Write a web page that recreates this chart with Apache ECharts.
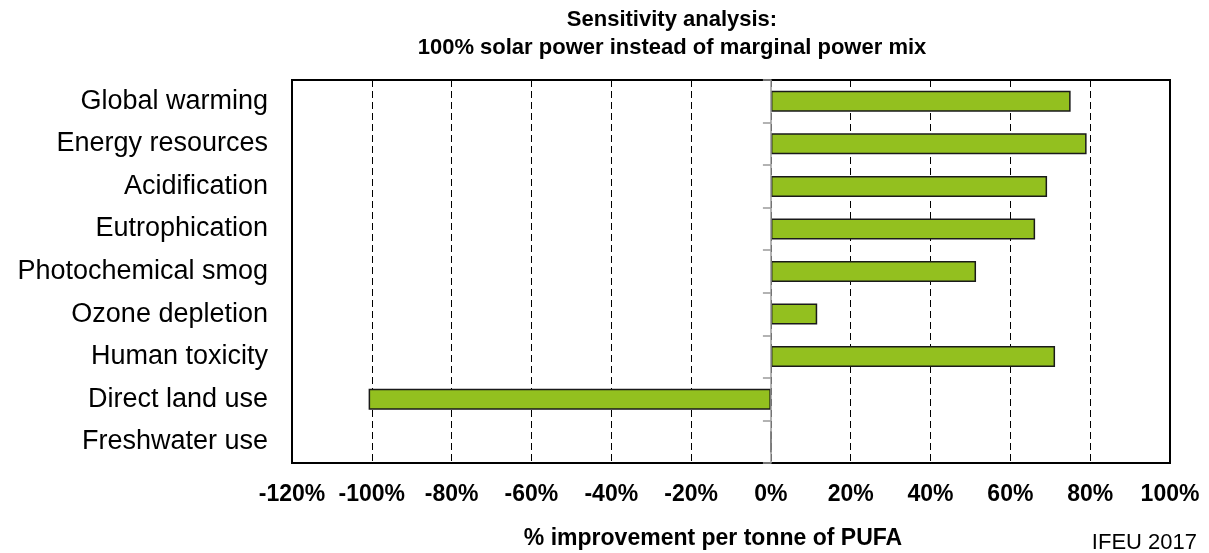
<!DOCTYPE html>
<html>
<head>
<meta charset="utf-8">
<script src="https://cdn.jsdelivr.net/npm/echarts@6/dist/echarts.min.js"></script>
<style>
html,body{margin:0;padding:0;background:#fff;}
#chart{width:1209px;height:553px;}
</style>
</head>
<body>
<div id="chart"></div>
<script>
const categories = ['Global warming','Energy resources','Acidification','Eutrophication','Photochemical smog','Ozone depletion','Human toxicity','Direct land use','Freshwater use'];
const improvement = [75.1, 79.1, 69.2, 66.2, 51.4, 11.6, 71.2, -100.8, 0];
const xTicks = { min: -120, max: 100, interval: 20 };
const titleLines = ['Sensitivity analysis:', '100% solar power instead of marginal power mix'];
const xAxisName = '% improvement per tonne of PUFA';
const sourceNote = 'IFEU 2017';

const FONT = '"Liberation Sans", Arial, sans-serif';
const chart = echarts.init(document.getElementById('chart'), null, {renderer:'canvas'});
chart.setOption({
  animation: false,
  backgroundColor: '#fff',
  title: [
    { text: titleLines.join('\n'), left: 672, top: 6, padding: 0, textAlign: 'center',
      textStyle: { fontFamily: FONT, fontSize: 22, fontWeight: 'bold', color: '#000', lineHeight: 28 } },
    { text: xAxisName, left: 713, top: 527, padding: 0, textAlign: 'center',
      textStyle: { fontFamily: FONT, fontSize: 23, fontWeight: 'bold', color: '#000', lineHeight: 24 } },
    { text: sourceNote, right: 12, top: 531, padding: 0,
      textStyle: { fontFamily: FONT, fontSize: 22, fontWeight: 'normal', color: '#000', lineHeight: 24 } }
  ],
  grid: { left: 292, top: 80, right: 39, bottom: 90, show: true, borderColor: '#000', borderWidth: 2, backgroundColor: 'transparent' },
  xAxis: {
    type: 'value', min: xTicks.min, max: xTicks.max, interval: xTicks.interval,
    axisLine: { show: false }, axisTick: { show: false },
    axisLabel: { formatter: '{value}%', margin: 20, fontFamily: FONT, fontSize: 23, fontWeight: 'bold', color: '#000' },
    splitLine: { show: true, lineStyle: { color: '#000', width: 1, type: [7, 4] } }
  },
  yAxis: [
    { type: 'category', data: categories, inverse: true, position: 'left',
      axisLine: { show: false, onZero: false }, axisTick: { show: false },
      axisLabel: { margin: 24, fontFamily: FONT, fontSize: 27, color: '#000' } },
    { type: 'category', data: categories, inverse: true, position: 'left', z: 10,
      axisLine: { show: true, onZero: true, lineStyle: { color: '#9a9a9a', width: 1.5 } },
      axisTick: { show: true, length: 8, lineStyle: { color: '#9a9a9a', width: 1.5 } },
      axisLabel: { show: false }, splitLine: { show: false } }
  ],
  series: [{
    type: 'bar', yAxisIndex: 0, data: improvement, barWidth: 21,
    itemStyle: { color: '#93C01F', borderColor: '#1a1a1a', borderWidth: 1.5 },
    z: 3
  }]
});
</script>
</body>
</html>
